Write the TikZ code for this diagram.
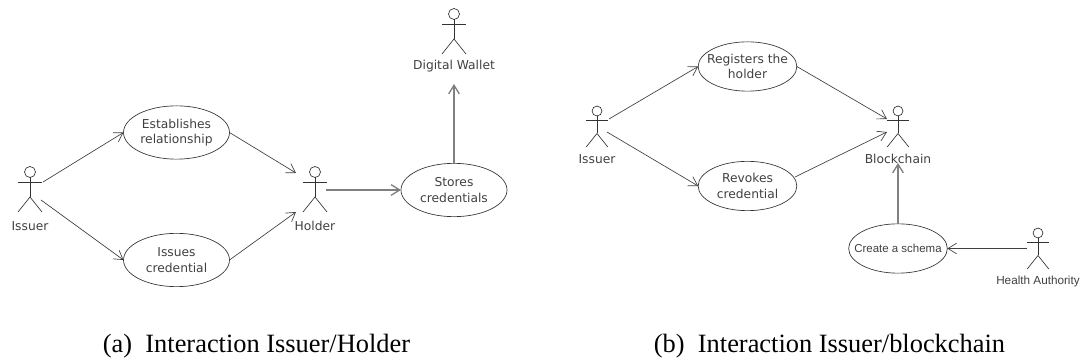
\documentclass[tikz,border=0pt]{standalone}
\usepackage{fontspec}
\setmainfont{Liberation Serif}
\newfontfamily\umlfont{DejaVu Sans}
\newfontfamily\drawfont{Liberation Sans}
\usetikzlibrary{arrows.meta,positioning,shapes.geometric}

\begin{document}
\begin{tikzpicture}[
    x=0.75pt, y=-0.75pt,
    outer sep=0pt,
    line width=0.5pt,
    >={Straight Barb[length=6.5pt, width=8pt]},
    % --- styles ---
    case/.style={
        draw=black!80,
        ellipse,
        minimum width=79.5pt,
        minimum height=40pt,
        inner sep=-8pt,
        align=center,
        text=black!75,
        font=\umlfont\fontsize{9.2}{11.5}\selectfont
    },
    small case/.style={
        case,
        minimum width=74pt,
        minimum height=37pt
    },
    actor label/.style={
        inner sep=0pt,
        text=black!75,
        font=\umlfont\fontsize{9.2}{11}\selectfont
    },
    hand label/.style={
        actor label,
        font=\drawfont\fontsize{8.8}{10}\selectfont
    },
    caption/.style={
        inner sep=0pt,
        font=\fontsize{19.8}{22}\selectfont
    },
    link/.style={->, draw=black!75},
    straight link/.style={->, draw=black!50, line width=1pt},
    actor/.pic={
        \draw[draw=black!80] (0,0) circle (5.5);
        \draw[draw=black!80] (-12,10) -- (12,10);
        \draw[draw=black!80] (-12,40) -- (0,25) -- (12,40);
        \draw[draw=black!80] (0,5.5) -- (0,25);
    }
]
    \useasboundingbox (0,0) rectangle (1083,363);

    % ====== (a) Issuer/Holder ======
    \pic at (30,172) {actor};
    \node[actor label] (issuer a) at (30,226) {Issuer};
    \pic at (315,172) {actor};
    \node[actor label] (holder) at (315,226) {Holder};
    \pic at (454,14) {actor};
    \node[actor label] (wallet) at (454,66) {Digital Wallet};

    \node[case] (establishes) at (176.5,132.5) {Establishes\\relationship};
    \node[case] (issues) at (176.5,260) {Issues\\credential};
    \node[case] (stores) at (454,190) {Stores\\credentials};

    \coordinate (issuer a top) at (43,182);
    \coordinate (issuer a low) at (41,200);
    \coordinate (holder top) at (296,173);
    \coordinate (holder low) at (296,212);
    \coordinate (holder out) at (326,190);
    \coordinate (wallet in) at (454,84);

    \draw[link] (issuer a top) -- (establishes.west);
    \draw[link] (issuer a low) -- (issues.west);
    \draw[link] (establishes.east) -- (holder top);
    \draw[link] (issues.east) -- (holder low);
    \draw[straight link] (holder out) -- (stores.west);
    \draw[straight link] (stores.north) -- (wallet in);

    % ====== (b) Issuer/blockchain ======
    \pic[scale=0.9] at (597,111) {actor};
    \node[actor label] (issuer b) at (597,159) {Issuer};
    \pic[scale=0.9] at (898,111) {actor};
    \node[actor label] (blockchain) at (898,159) {Blockchain};
    \pic[scale=0.9] at (1038,233) {actor};
    \node[hand label] (health) at (1038,281) {Health Authority};

    \node[small case] (registers) at (747.5,66.5) {Registers the\\holder};
    \node[small case] (revokes) at (747.5,186) {Revokes\\credential};
    \node[small case, font=\drawfont\fontsize{8.6}{10}\selectfont] (schema) at (898,248.5) {Create a schema};

    \coordinate (issuer b top) at (609,119);
    \coordinate (issuer b low) at (607,132);
    \coordinate (chain top) at (887,119);
    \coordinate (chain low) at (887,132);
    \coordinate (chain in) at (898,163);
    \coordinate (health out) at (1027,248.5);
    \coordinate (revokes out) at (795,177);

    \draw[link] (issuer b top) -- (registers.west);
    \draw[link] (issuer b low) -- (revokes.west);
    \draw[link] (registers.east) -- (chain top);
    \draw[link] (revokes out) -- (chain low);
    \draw[straight link] (schema.north) -- (chain in);
    \draw[link] (health out) -- (schema.east);

    % ====== captions ======
    \node[caption] (caption a) at (256.5,346) {(a)\ \ Interaction Issuer/Holder};
    \node[caption] (caption b) at (829.5,346) {(b)\ \ Interaction Issuer/blockchain};
\end{tikzpicture}
\end{document}
